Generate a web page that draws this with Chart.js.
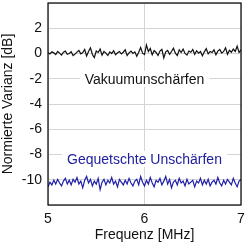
<!DOCTYPE html>
<html>
<head>
<meta charset="utf-8">
<script src="https://cdn.jsdelivr.net/npm/chart.js@4"></script>
<style>
  html, body { margin: 0; padding: 0; background: #fff; }
  #wrap { width: 250px; height: 244px; }
</style>
</head>
<body>
<div id="wrap"><canvas id="myChart" width="250" height="244"></canvas></div>
<script>
// Frequenzbereich und Achsen
const xMin = 5, xMax = 7;
const xTicks = [5, 6, 7];
const yTicks = [2, 0, -2, -4, -6, -8, -10];

const vacuum = [0.08,-0.03,0.13,0.05,-0.08,0.16,0.03,-0.13,0.1,0.19,-0.06,0.0,0.14,-0.16,-0.05,0.11,0.24,-0.03,0.08,0.32,
  -0.19,0.16,0.45,-0.08,-0.32,0.19,0.08,0.35,-0.13,0.16,0.03,-0.16,0.13,0.0,0.22,-0.1,0.06,0.16,-0.03,0.1,
  0.29,-0.16,0.05,0.19,0.0,0.13,-0.22,0.1,0.48,0.03,-0.08,0.67,0.16,0.4,-0.1,0.24,0.08,-0.16,0.19,0.32,
  -0.35,0.13,0.24,-0.06,0.16,0.42,0.03,-0.16,0.29,0.08,0.35,0.0,-0.13,0.19,0.1,0.32,-0.06,0.22,0.03,0.16,
  -0.19,0.13,0.38,-0.03,0.16,0.08,0.29,-0.1,0.19,0.32,0.03,0.16,0.45,-0.06,0.26,0.1,0.35,0.16,0.58,0.08,0.29];

// Gequetschte Unschärfen (um -10 dB)
const squeezed = [-10.55,-10.19,-10.41,-10.04,-10.34,-9.97,-10.26,-10.49,-10.11,-9.89,-10.34,-10.04,-10.41,-9.97,-10.19,-9.82,-10.34,-10.11,-10.64,-10.04,
  -9.74,-10.26,-9.97,-10.49,-10.11,-10.34,-9.89,-10.79,-10.19,-9.97,-10.41,-10.04,-10.26,-9.82,-10.34,-10.11,-10.56,-9.97,-10.19,-10.41,
  -10.04,-10.34,-9.89,-10.26,-10.49,-10.11,-9.97,-10.41,-9.74,-10.19,-10.49,-10.04,-10.34,-9.82,-10.26,-10.56,-10.04,-10.19,-9.89,-10.41,
  -10.11,-9.74,-10.34,-9.97,-10.64,-10.19,-10.04,-10.41,-9.89,-10.26,-10.11,-10.49,-9.97,-10.34,-10.19,-10.04,-10.56,-10.11,-10.26,-9.89,
  -10.41,-10.04,-10.34,-9.97,-10.49,-10.19,-10.04,-10.34,-9.82,-10.26,-10.49,-10.04,-10.34,-9.97,-10.19,-10.41,-9.89,-10.26,-10.56,-10.11,-9.97];

// Beschriftungen im Diagramm
const labels = [
  { text: 'Vakuumunschärfen', x: 6, y: -2, color: '#111111' },
  { text: 'Gequetschte Unschärfen', x: 6, y: -8.35, color: '#2020a0' }
];

function toPoints(arr) {
  return arr.map((v, i) => ({ x: xMin + i * (xMax - xMin) / (arr.length - 1), y: v }));
}

const FONT = { family: 'Arial, "Liberation Sans", sans-serif', size: 14 };

// Rahmen und Textfelder
const framePlugin = {
  id: 'frame',
  afterDatasetsDraw(c) {
    const ctx = c.ctx, a = c.chartArea;
    const sx = c.scales.x, sy = c.scales.y;
    ctx.save();
    ctx.font = '14px Arial, "Liberation Sans", sans-serif';
    ctx.textAlign = 'center';
    ctx.textBaseline = 'middle';
    labels.forEach(l => {
      const px = sx.getPixelForValue(l.x), py = sy.getPixelForValue(l.y);
      const w = ctx.measureText(l.text).width;
      ctx.fillStyle = '#fff';
      ctx.fillRect(px - w / 2 - 5, py - 8, w + 10, 16);
      ctx.fillStyle = l.color;
      ctx.fillText(l.text, px, py + 1);
    });
    ctx.strokeStyle = '#000';
    ctx.lineWidth = 1.2;
    ctx.strokeRect(a.left, a.top, a.right - a.left, a.bottom - a.top);
    ctx.restore();
  }
};

new Chart(document.getElementById('myChart'), {
  type: 'line',
  data: {
    datasets: [
      { data: toPoints(vacuum), borderColor: '#111111', borderWidth: 1.2, pointRadius: 0, tension: 0 },
      { data: toPoints(squeezed), borderColor: '#1f1fa8', borderWidth: 1.2, pointRadius: 0, tension: 0 }
    ]
  },
  options: {
    responsive: false,
    animation: false,
    layout: { padding: { left: 0, right: 9, top: 3, bottom: 0 } },
    plugins: { legend: { display: false }, tooltip: { enabled: false } },
    scales: {
      x: {
        type: 'linear', min: xMin, max: xMax,
        afterBuildTicks: s => { s.ticks = xTicks.map(v => ({ value: v })); },
        afterFit: s => { s.height = 39; s.paddingLeft = 0; s.paddingRight = 0; },
        grid: { color: '#d4d4d4', drawTicks: false },
        border: { display: false },
        ticks: { color: '#111', font: FONT, padding: 6 },
        title: { display: true, text: 'Frequenz [MHz]', color: '#111', font: FONT, padding: { top: 0, bottom: 0 } }
      },
      y: {
        min: -12, max: 4,
        afterBuildTicks: s => { s.ticks = [4, ...yTicks, -12].map(v => ({ value: v })); },
        afterFit: s => { s.width = 48; s.paddingTop = 0; s.paddingBottom = 0; },
        grid: { color: '#d4d4d4', drawTicks: false },
        border: { display: false },
        ticks: {
          color: '#111', font: FONT, padding: 6,
          callback: v => yTicks.includes(v) ? String(v) : ''
        },
        title: { display: true, text: 'Normierte Varianz [dB]', color: '#111', font: FONT, padding: { top: 0, bottom: 0 } }
      }
    }
  },
  plugins: [framePlugin]
});
</script>
</body>
</html>
